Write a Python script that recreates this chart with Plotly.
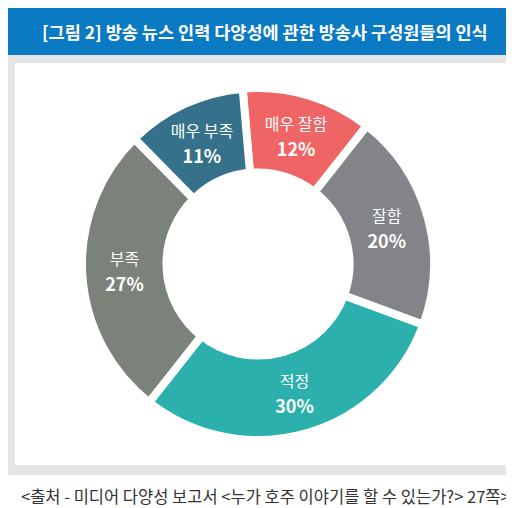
import plotly.graph_objects as go

# 방송 뉴스 인력 다양성 인식 (%)
labels = ['매우 잘함', '잘함', '적정', '부족', '매우 부족']
values = [12, 20, 30, 27, 11]
colors = ['#ef6465', '#838489', '#2bb0ae', '#7b8279', '#35718b']

title = '[그림 2] 방송 뉴스 인력 다양성에 관한 방송사 구성원들의 인식'
source = '<출처 - 미디어 다양성 보고서 <누가 호주 이야기를 할 수 있는가?> 27쪽>'

W, H = 514, 508
font = 'Noto Sans CJK KR'

fig = go.Figure()
# base size 20 only sets the line spacing, the spans set the real sizes
fig.add_trace(go.Pie(
    labels=labels,
    values=values,
    sort=False,
    direction='clockwise',
    rotation=-5,
    hole=0.52,
    marker=dict(colors=colors, line=dict(color='white', width=8)),
    texttemplate='<span style="font-size:16px">%{label}</span><br>'
                 '<b><span style="font-size:18px">%{value}%</span></b>',
    textposition='inside',
    insidetextorientation='horizontal',
    textfont=dict(family=font, size=20, color='white'),
    hoverinfo='label+percent',
    showlegend=False,
    domain=dict(x=[74 / W, 426 / W], y=[(252 - 176) / H, (252 + 176) / H]),
))

fig.update_layout(
    width=W, height=H,
    margin=dict(l=0, r=0, t=0, b=0),
    paper_bgcolor='white',
    plot_bgcolor='white',
    font=dict(family=font),
    shapes=[
        # blue title bar
        dict(type='rect', xref='paper', yref='paper', x0=0, x1=1,
             y0=1 - 47 / H, y1=1, fillcolor='#0a7ac3', line_width=0, layer='below'),
        # grey frame round the chart
        dict(type='rect', xref='paper', yref='paper', x0=0, x1=1,
             y0=1 - 467 / H, y1=1 - 47 / H, fillcolor='#e5e5e5', line_width=0, layer='below'),
        dict(type='rect', xref='paper', yref='paper', x0=7 / W, x1=506 / W,
             y0=1 - 457 / H, y1=1 - 55 / H, fillcolor='white', line_width=0, layer='below'),
    ],
    annotations=[
        dict(text='<b>' + title + '</b>', xref='paper', yref='paper', x=0.5, y=1 - 23 / H,
             showarrow=False, font=dict(family=font, size=17.5, color='white'),
             xanchor='center', yanchor='middle'),
        dict(text=source, xref='paper', yref='paper', x=0.5, y=1 - 488 / H,
             showarrow=False, font=dict(family=font, size=16.5, color='#333333'),
             xanchor='center', yanchor='middle'),
    ],
)

fig.write_html('out.html')
